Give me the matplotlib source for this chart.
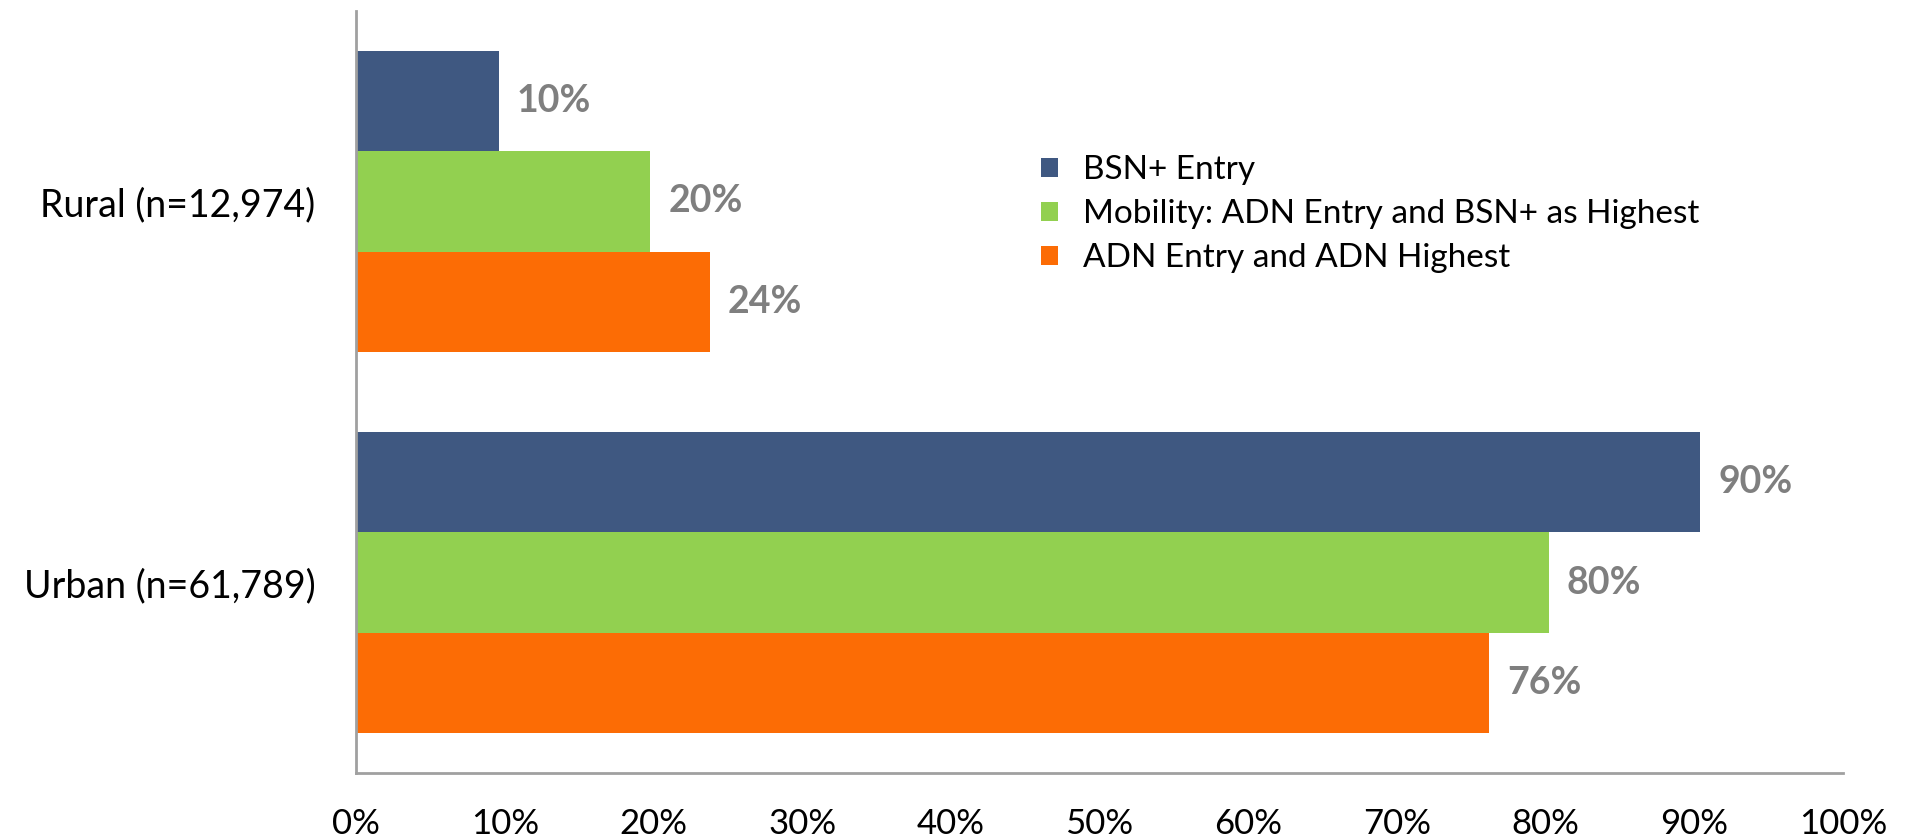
import matplotlib.pyplot as plt
import numpy as np

# data
groups = ['Urban (n=61,789)', 'Rural (n=12,974)']
series = ['BSN+ Entry', 'Mobility: ADN Entry and BSN+ as Highest', 'ADN Entry and ADN Highest']
bsn_entry = [90.4, 9.6]
mobility = [80.2, 19.8]
adn_entry = [76.2, 23.8]
bsn_labels = ['90%', '10%']
mobility_labels = ['80%', '20%']
adn_labels = ['76%', '24%']
xticks = [0, 10, 20, 30, 40, 50, 60, 70, 80, 90, 100]

colors = ['#3F5881', '#92D050', '#FC6C05']
plt.rcParams['font.family'] = ['Lato', 'DejaVu Sans']

fig = plt.figure(figsize=(19.05, 8.38), dpi=100)
ax = fig.add_axes([356/1905, 1 - 773/838, (1843 - 356)/1905, (773 - 11)/838])

y = np.arange(len(groups))
h = 0.2625
vals = [bsn_entry, mobility, adn_entry]
labs = [bsn_labels, mobility_labels, adn_labels]
offsets = [h, 0, -h]
for v, lab, off, c, name in zip(vals, labs, offsets, colors, series):
    bars = ax.barh(y + off, v, height=h, color=c, label=name)
    ax.bar_label(bars, labels=lab, padding=13, color='#7F7F7F',
                 fontsize=27, fontweight='bold')

ax.set_xlim(0, 100)
ax.set_ylim(-0.5, 1.5)
ax.set_xticks(xticks)
ax.set_xticklabels([f'{t}%' for t in xticks])
ax.set_yticks(y)
ax.set_yticklabels(groups)
ax.tick_params(axis='x', length=0, pad=25, labelsize=25)
ax.tick_params(axis='y', length=0, pad=29, labelsize=27)

for s in ['top', 'right']:
    ax.spines[s].set_visible(False)
for s in ['left', 'bottom']:
    ax.spines[s].set_color('#A0A0A0')
    ax.spines[s].set_linewidth(2)

ax.legend(loc='center left', bbox_to_anchor=(1041/1905, 1 - 214/838),
          bbox_transform=fig.transFigure, frameon=False, fontsize=24,
          borderpad=0, borderaxespad=0, handlelength=0.5, handleheight=0.5,
          handletextpad=0.75, labelspacing=0.42)

fig.savefig('out.png', dpi=100)
